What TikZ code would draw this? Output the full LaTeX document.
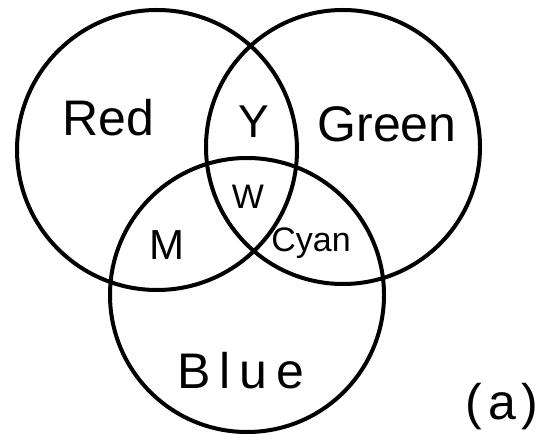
\documentclass[tikz,border=0pt]{standalone}
\usepackage{fontspec}
\setmainfont{Liberation Sans}
\begin{document}
\begin{tikzpicture}[x=1pt,y=-1pt,
  ring/.style={circle, draw=black, line width=4pt, inner sep=0pt, fill=none},
  big/.style={font=\fontsize{50}{50}\selectfont, inner sep=0pt},
  mid/.style={font=\fontsize{42}{42}\selectfont, inner sep=0pt},
  small/.style={font=\fontsize{34}{34}\selectfont, inner sep=0pt}]
\useasboundingbox (0,0) rectangle (540,438);
\fill[white] (0,0) rectangle (540,438);
\node[ring, minimum size=280pt] (red) at (157,150) {};
\node[ring, minimum size=274pt] (green) at (343,147) {};
\node[ring, minimum size=274pt] (blue) at (247,295) {};
\node[big] (tred) at (108,118) {Red};
\node[big] (tgreen) at (387,124) {Green};
\node[big] (tblue) at (241,371) {B\kern9pt l\kern9pt u\kern9pt e};
\node[big, font=\fontsize{46}{46}\selectfont] (ty) at (254,122) {Y};
\node[small] (tw) at (248,197) {W};
\node[mid] (tm) at (167,245) {M};
\node[small] (tc) at (311,243) {Cyan};
\node[big] (ta) at (502,407) {(\kern6pt a\kern6pt)};
\end{tikzpicture}
\end{document}
